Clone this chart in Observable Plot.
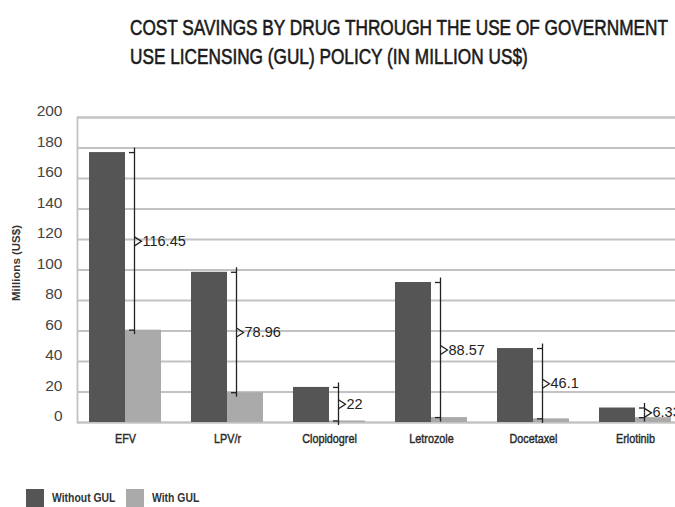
<!DOCTYPE html>
<html><head><meta charset="utf-8">
<script src="https://cdn.jsdelivr.net/npm/d3@7"></script>
<script src="https://cdn.jsdelivr.net/npm/@observablehq/plot@0.6"></script>
<style>
html,body{margin:0;padding:0;background:#fff;overflow:hidden;width:675px;height:507px}
#wrap{position:relative;width:675px;height:507px;overflow:hidden}
#title{position:absolute;left:130px;top:13px;font-family:"Liberation Sans",Arial,sans-serif;font-size:22px;line-height:29px;color:#1a1a1a;white-space:nowrap;transform-origin:0 0;-webkit-text-stroke:0.6px #1a1a1a}
#title div{display:inline-block}
#chart{position:absolute;left:0;top:80px}
.lg-sw{position:absolute;width:18px;height:18px}
.lg-tx{position:absolute;font-family:"Liberation Sans",Arial,sans-serif;font-weight:bold;font-size:13px;color:#333;line-height:18px;white-space:nowrap;transform:scaleX(0.8);transform-origin:0 0}
</style>
</head><body>
<div id="wrap">
  <div id="title"><div id="t1">COST SAVINGS BY DRUG THROUGH THE USE OF GOVERNMENT</div><br><div>USE LICENSING (GUL) POLICY (IN MILLION US$)</div></div>
  <div id="chart"></div>
  <div id="legend"></div>
</div>
<script>
const drugs = ["EFV", "LPV/r", "Clopidogrel", "Letrozole", "Docetaxel", "Erlotinib"];
const withoutGUL = [177, 98.5, 23, 91.8, 48.5, 9.5];
const withGUL = [60.55, 19.54, 1, 3.23, 2.4, 3.17];
const savingsLabels = ["116.45", "78.96", "22", "88.57", "46.1", "6.33"];
const yTicks = [0, 20, 40, 60, 80, 100, 120, 140, 160, 180, 200];
const seriesNames = ["Without GUL", "With GUL"];
const seriesColors = ["#555555", "#aaaaaa"];

const data = drugs.map((d, i) => ({
  drug: d,
  without: withoutGUL[i],
  with: withGUL[i],
  mid: (withoutGUL[i] + withGUL[i]) / 2,
  label: savingsLabels[i]
}));

const ink = "#222";
const FONT = "Liberation Sans, Arial, sans-serif";
const chevron = {
  draw(ctx) {
    ctx.moveTo(-3.5, -4.5);
    ctx.lineTo(3.5, 0);
    ctx.lineTo(-3.5, 4.5);
  }
};

const chart = Plot.plot({
  width: 675,
  height: 390,
  marginLeft: 77,
  marginRight: -20,
  marginTop: 37,
  marginBottom: 48,
  style: {background: "transparent", fontFamily: FONT},
  x: {domain: drugs, range: [75, 686], paddingInner: 0.294, paddingOuter: 0.142},
  y: {domain: [0, 200]},
  marks: [
    Plot.ruleY(yTicks, {stroke: "#c2c2c2", strokeWidth: 1.8}),
    Plot.frame({stroke: "#c2c2c2", strokeWidth: 1.8}),
    Plot.barY(data, {x: "drug", y: "without", fill: seriesColors[0], insetRight: 36}),
    Plot.barY(data, {x: "drug", y: "with", fill: seriesColors[1], insetLeft: 36}),
    Plot.ruleX(data, {x: "drug", y1: "mid", y2: "without", dx: 9, insetBottom: 4.5, stroke: ink, strokeWidth: 1.3}),
    Plot.ruleX(data, {x: "drug", y1: "with", y2: "mid", dx: 9, insetTop: 4.5, stroke: ink, strokeWidth: 1.3}),
    Plot.tickY(data, {x: "drug", y: "without", insetLeft: 40, insetRight: 27, stroke: ink, strokeWidth: 1.3}),
    Plot.tickY(data, {x: "drug", y: "with", insetLeft: 40, insetRight: 27, stroke: ink, strokeWidth: 1.3}),
    Plot.dot(data, {x: "drug", y: "mid", r: 4, symbol: chevron, dx: 12.5, fill: "none", stroke: ink, strokeWidth: 1.3}),
    Plot.text(data, {x: "drug", y: "mid", text: "label", dx: 17, textAnchor: "start", fontSize: 14.5, fill: ink, ariaLabel: "values"}),
    Plot.axisY({ticks: yTicks, tickSize: 0, tickPadding: 15, dy: -6, fontSize: 15.5, fill: "#444", label: null}),
    Plot.axisX({tickSize: 0, tickPadding: 11, fontSize: 13.5, fill: "#2a2a2a", label: null}),
    Plot.text(["Millions (US$)"], {frameAnchor: "left", textAnchor: "middle", dx: -61, dy: -7, rotate: -90, fontSize: 11.5, fontWeight: "bold", fill: "#333", ariaLabel: "ytitle"})
  ]
});
document.getElementById("chart").appendChild(chart);

// condensed look: compress glyph widths of selected texts
function compress(sel, k, sw) {
  chart.querySelectorAll(sel).forEach(t => {
    const L = t.getComputedTextLength();
    t.setAttribute("textLength", (L * k).toFixed(2));
    t.setAttribute("lengthAdjust", "spacingAndGlyphs");
    if (sw) { t.style.stroke = "currentColor"; t.setAttribute("stroke", t.getAttribute("fill") || "#2a2a2a"); t.style.strokeWidth = sw + "px"; }
  });
}
compress('g[aria-label="x-axis tick label"] text', 0.8, 0.45);
compress('g[aria-label="values"] text', 0.82, 0);
compress('g[aria-label="ytitle"] text', 0.85, 0);
chart.querySelectorAll('g[aria-label="x-axis tick label"] text').forEach(t => { t.style.stroke = "#2a2a2a"; });

// fit title width
const t = document.getElementById("title");
const w1 = document.getElementById("t1").getBoundingClientRect().width;
t.style.transform = `scaleX(${538 / w1})`;

// legend
const lg = document.getElementById("legend");
const lgX = [26, 126];
seriesNames.forEach((name, i) => {
  const sw = document.createElement("div");
  sw.className = "lg-sw";
  sw.style.left = lgX[i] + "px";
  sw.style.top = "489px";
  sw.style.background = seriesColors[i];
  lg.appendChild(sw);
  const tx = document.createElement("div");
  tx.className = "lg-tx";
  tx.style.left = (lgX[i] + 26) + "px";
  tx.style.top = "489px";
  tx.textContent = name;
  lg.appendChild(tx);
});
</script>
</body></html>
